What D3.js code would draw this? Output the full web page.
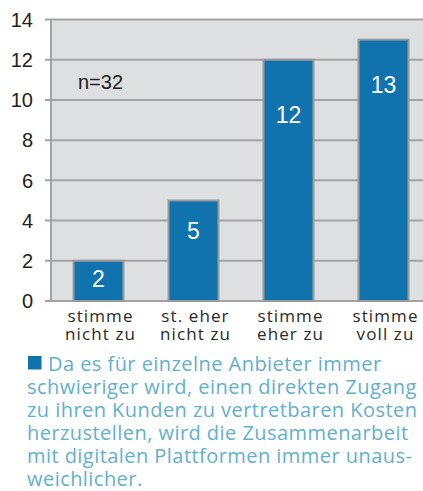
<!DOCTYPE html>
<html>
<head>
<meta charset="utf-8">
<script src="https://cdn.jsdelivr.net/npm/d3@7"></script>
<style>
  html, body { margin: 0; padding: 0; background: #fff; }
  svg { display: block; }
</style>
</head>
<body>
<div id="chart"></div>
<script>
'use strict';

// chart data
var categories = [['stimme', 'nicht zu'], ['st. eher', 'nicht zu'], ['stimme', 'eher zu'], ['stimme', 'voll zu']];
var counts = [2, 5, 12, 13];
var yTicks = [0, 2, 4, 6, 8, 10, 12, 14];
var sampleNote = 'n=32';
var caption = [
  'Da es für einzelne Anbieter immer',
  'schwieriger wird, einen direkten Zugang',
  'zu ihren Kunden zu vertretbaren Kosten',
  'herzustellen, wird die Zusammenarbeit',
  'mit digitalen Plattformen immer unaus-',
  'weichlicher.'
];

// layout
var W = 423, H = 491;
var plotLeft = 51, plotRight = 431, plotTop = 19.5, plotBottom = 301;
// how far the value label sits below each bar top (px)
var labelDrop = [18, 30.5, 55, 45];

var svg = d3.select('#chart').append('svg')
  .attr('width', W)
  .attr('height', H);

var x = d3.scaleBand()
  .domain(d3.range(counts.length))
  .range([plotLeft, plotRight])
  .paddingInner(0.474)
  .paddingOuter(0.237);

var y = d3.scaleLinear()
  .domain([0, 14])
  .range([plotBottom, plotTop]);

// plot background
svg.append('rect')
  .attr('x', plotLeft)
  .attr('y', plotTop)
  .attr('width', plotRight - plotLeft)
  .attr('height', plotBottom - plotTop)
  .attr('fill', '#dedfe1');

// grid lines + ticks
svg.selectAll('line.grid')
  .data(yTicks)
  .enter()
  .append('line')
  .attr('class', 'grid')
  .attr('x1', plotLeft - 6)
  .attr('x2', plotRight)
  .attr('y1', function (d) { return y(d); })
  .attr('y2', function (d) { return y(d); })
  .attr('stroke', '#a3a3a3')
  .attr('stroke-width', 2);

// y axis line
svg.append('line')
  .attr('x1', plotLeft)
  .attr('x2', plotLeft)
  .attr('y1', plotTop)
  .attr('y2', plotBottom)
  .attr('stroke', '#a3a3a3')
  .attr('stroke-width', 2);

svg.selectAll('text.ytick')
  .data(yTicks)
  .enter()
  .append('text')
  .attr('class', 'ytick')
  .attr('x', 33)
  .attr('y', function (d) { return y(d); })
  .attr('dy', '0.36em')
  .attr('text-anchor', 'end')
  .attr('font-family', 'Liberation Sans, Arial, sans-serif')
  .attr('font-size', 20)
  .attr('fill', '#222')
  .text(function (d) { return d; });

// bars
svg.selectAll('rect.bar')
  .data(counts)
  .enter()
  .append('rect')
  .attr('class', 'bar')
  .attr('x', function (d, i) { return x(i); })
  .attr('y', function (d) { return y(d); })
  .attr('width', x.bandwidth())
  .attr('height', function (d) { return plotBottom - y(d); })
  .attr('fill', '#1173ae')
  .attr('stroke', '#9a9a9a')
  .attr('stroke-width', 2);

// value labels
svg.selectAll('text.val')
  .data(counts)
  .enter()
  .append('text')
  .attr('class', 'val')
  .attr('x', function (d, i) { return x(i) + x.bandwidth() / 2; })
  .attr('y', function (d, i) { return y(d) + labelDrop[i]; })
  .attr('dy', '0.36em')
  .attr('text-anchor', 'middle')
  .attr('font-family', 'Liberation Sans, Arial, sans-serif')
  .attr('font-size', 23)
  .attr('fill', '#fff')
  .text(function (d) { return d; });

// n=32
svg.append('text')
  .attr('x', 78)
  .attr('y', 89)
  .attr('font-family', 'Liberation Sans, Arial, sans-serif')
  .attr('font-size', 20)
  .attr('fill', '#222')
  .text(sampleNote);

// category labels (two lines each)
var cat = svg.selectAll('text.cat')
  .data(categories)
  .enter()
  .append('text')
  .attr('class', 'cat')
  .attr('text-anchor', 'middle')
  .attr('font-family', 'Open Sans, sans-serif')
  .attr('font-size', 17)
  .attr('letter-spacing', 1.1)
  .attr('fill', '#2a2a2a');

cat.selectAll('tspan')
  .data(function (d, i) { return d.map(function (s) { return { s: s, i: i }; }); })
  .enter()
  .append('tspan')
  .attr('x', function (d) { return x(d.i) + x.bandwidth() / 2 + 2; })
  .attr('y', function (d, j) { return 322 + j * 17.5; })
  .text(function (d) { return d.s; });

// caption
svg.append('rect')
  .attr('x', 28)
  .attr('y', 356)
  .attr('width', 13.5)
  .attr('height', 13.5)
  .attr('fill', '#1173ae');

svg.selectAll('text.cap')
  .data(caption)
  .enter()
  .append('text')
  .attr('class', 'cap')
  .attr('x', function (d, i) { return i === 0 ? 48 : 27; })
  .attr('y', function (d, i) { return 371 + i * 23; })
  .attr('font-family', 'Open Sans, sans-serif')
  .attr('font-size', 20)
  .attr('letter-spacing', 0.45)
  .attr('fill', '#62b0d1')
  .text(function (d) { return d; });
</script>
</body>
</html>
